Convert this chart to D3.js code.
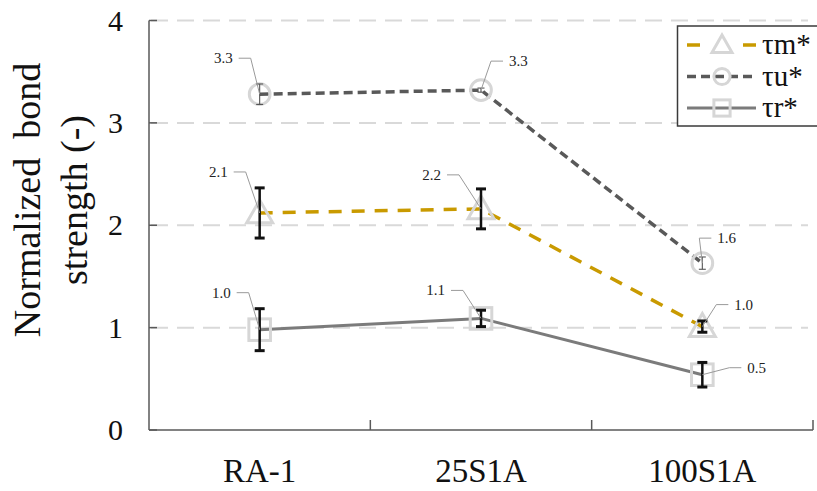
<!DOCTYPE html>
<html>
<head>
<meta charset="utf-8">
<script src="https://cdn.jsdelivr.net/npm/d3@7"></script>
<style>
  html, body { margin: 0; padding: 0; background: #fff; }
  svg { display: block; }
</style>
</head>
<body>
<svg id="chart" width="817" height="491" font-family="'Times New Roman', 'Liberation Serif', Tinos, serif"></svg>
<script>
// ---- data ----
const categories = ["RA-1", "25S1A", "100S1A"];
const yTicks = [0, 1, 2, 3, 4];

const tauM = [2.12, 2.16, 1.01];
const tauMErr = [0.245, 0.195, 0.055];

const tauU = [3.28, 3.32, 1.63];
const tauUErr = [0.10, 0.02, 0.06];

const tauR = [0.98, 1.09, 0.54];
const tauRErr = [0.205, 0.08, 0.12];

const seriesNames = ["τm*", "τu*", "τr*"];

// ---- layout ----
const svg = d3.select("#chart");
const plot = { left: 149, right: 813, top: 20.5, bottom: 430 };

const x = d3.scaleBand().domain(categories).range([plot.left, plot.right]).padding(0);
const y = d3.scaleLinear().domain([0, 4]).range([plot.bottom, plot.top]);
const cx = c => x(c) + x.bandwidth() / 2;

// label placement per point: [dx, dy] of label anchor relative to point, anchor side
const labelLayout = {
  "τm*": [[-32, -36, "end"], [-40, -29, "end"], [32, -17, "start"]],
  "τu*": [[-27, -31, "end"], [28, -24, "start"], [15, -20, "start"]],
  "τr*": [[-29, -32, "end"], [-36, -23, "end"], [45, -2, "start"]]
};

const series = [
  { name: "τm*", values: tauM, err: tauMErr, color: "#c99a00", width: 3.5, dash: "13,10",
    marker: "triangle", errStyle: "bold" },
  { name: "τu*", values: tauU, err: tauUErr, color: "#595959", width: 3.5, dash: "9,5",
    marker: "circle", errStyle: "thin" },
  { name: "τr*", values: tauR, err: tauRErr, color: "#7b7b7b", width: 3, dash: null,
    marker: "square", errStyle: "bold" }
];

const markerColor = "#d6d6d6";

// ---- gridlines ----
svg.append("g").selectAll("line")
  .data(yTicks.filter(t => t > 0))
  .join("line")
  .attr("x1", plot.left + 2).attr("x2", plot.right - 5)
  .attr("y1", d => y(d)).attr("y2", d => y(d))
  .attr("stroke", "#d9d9d9").attr("stroke-width", 2)
  .attr("stroke-dasharray", "17,9");

// ---- axes ----
const axisColor = "#595959";
svg.append("line")
  .attr("x1", plot.left).attr("x2", plot.left)
  .attr("y1", y(4)).attr("y2", y(0))
  .attr("stroke", axisColor).attr("stroke-width", 1.5);
svg.append("line")
  .attr("x1", plot.left).attr("x2", plot.right)
  .attr("y1", y(0)).attr("y2", y(0))
  .attr("stroke", axisColor).attr("stroke-width", 1.5);

// y ticks (inside) and labels
svg.append("g").selectAll("line")
  .data(yTicks)
  .join("line")
  .attr("x1", plot.left).attr("x2", plot.left + 8)
  .attr("y1", d => y(d)).attr("y2", d => y(d))
  .attr("stroke", axisColor).attr("stroke-width", 1.5);
svg.append("g").selectAll("text")
  .data(yTicks)
  .join("text")
  .attr("x", 123).attr("y", d => y(d) + 10)
  .attr("text-anchor", "end")
  .attr("font-size", 30)
  .attr("fill", "#111")
  .text(d => d);

// x category separators (inside) and labels
svg.append("g").selectAll("line")
  .data(categories)
  .join("line")
  .attr("x1", d => x(d) + x.bandwidth()).attr("x2", d => x(d) + x.bandwidth())
  .attr("y1", y(0)).attr("y2", y(0) - 10)
  .attr("stroke", axisColor).attr("stroke-width", 1.5);
svg.append("g").selectAll("text")
  .data(categories)
  .join("text")
  .attr("x", d => cx(d)).attr("y", 482)
  .attr("text-anchor", "middle")
  .attr("font-size", 33)
  .attr("fill", "#111")
  .text(d => d);

// y axis title
const yTitle = svg.append("text")
  .attr("transform", "translate(0,200) rotate(-90)")
  .attr("text-anchor", "middle")
  .attr("font-size", 38)
  .attr("fill", "#111");
yTitle.append("tspan").attr("x", 0).attr("y", 40).text("Normalized\u00a0 bond");
yTitle.append("tspan").attr("x", 0).attr("y", 87).text("strength\u00a0(-)");

// ---- marker shapes ----
function drawMarker(g, type, px, py, s) {
  if (type === "circle") {
    g.append("circle").attr("cx", px).attr("cy", py).attr("r", s * 0.45)
      .attr("fill", "none").attr("stroke", markerColor).attr("stroke-width", 3);
  } else if (type === "square") {
    const h = s * 0.45;
    g.append("rect").attr("x", px - h).attr("y", py - h).attr("width", 2 * h).attr("height", 2 * h)
      .attr("fill", "none").attr("stroke", markerColor).attr("stroke-width", 3);
  } else {
    const w = s * 0.5, hTop = s * 0.5, hBot = s * 0.38;
    g.append("path")
      .attr("d", `M${px},${py - hTop}L${px + w},${py + hBot}L${px - w},${py + hBot}Z`)
      .attr("fill", "none").attr("stroke", markerColor).attr("stroke-width", 3)
      .attr("stroke-linejoin", "miter");
  }
}

// ---- series ----
const line = d3.line().x((d, i) => cx(categories[i])).y(d => y(d));

series.forEach(s => {
  const g = svg.append("g");
  g.append("path")
    .attr("d", line(s.values))
    .attr("fill", "none")
    .attr("stroke", s.color).attr("stroke-width", s.width)
    .attr("stroke-dasharray", s.dash)
    .attr("stroke-linejoin", "round");

  s.values.forEach((v, i) => {
    drawMarker(g, s.marker, cx(categories[i]), y(v), s.marker === "triangle" ? 26 : (s.marker === "circle" ? 23 : 24));
  });

  // error bars
  s.values.forEach((v, i) => {
    const e = s.err[i];
    const px = cx(categories[i]);
    const bold = s.errStyle === "bold";
    const col = bold ? "#111" : "#555";
    const sw = bold ? 2.5 : 1.1;
    const capW = bold ? 5 : 3.5;
    const capSW = bold ? 3 : 1.1;
    g.append("line").attr("x1", px).attr("x2", px)
      .attr("y1", y(v + e)).attr("y2", y(v - e))
      .attr("stroke", col).attr("stroke-width", sw);
    [v + e, v - e].forEach(t => {
      g.append("line").attr("x1", px - capW).attr("x2", px + capW)
        .attr("y1", y(t)).attr("y2", y(t))
        .attr("stroke", col).attr("stroke-width", capSW);
    });
  });
});

// ---- data labels with leader lines ----
const fmt = d3.format(".1f");
series.forEach(s => {
  s.values.forEach((v, i) => {
    const px = cx(categories[i]), py = y(v);
    const [dx, dy, anchor] = labelLayout[s.name][i];
    const lx = px + dx, ly = py + dy;
    const midY = ly - 5;
    // leader: short horizontal stub next to the label, then down to the point
    const stubStart = anchor === "end" ? lx + 6 : lx - 6;
    const stubEnd = anchor === "end" ? stubStart + 12 : stubStart - 12;
    svg.append("path")
      .attr("d", `M${stubStart},${midY}L${stubEnd},${midY}L${px},${py}`)
      .attr("fill", "none").attr("stroke", "#9a9a9a").attr("stroke-width", 1);
    svg.append("text")
      .attr("x", lx).attr("y", ly)
      .attr("text-anchor", anchor)
      .attr("font-size", 15)
      .attr("fill", "#222")
      .text(fmt(v));
  });
});

// ---- legend ----
const legend = svg.append("g");
legend.append("rect")
  .attr("x", 677.5).attr("y", 26).attr("width", 150).attr("height", 100)
  .attr("fill", "#fff").attr("stroke", "#3a3a3a").attr("stroke-width", 1.5);

series.forEach((s, i) => {
  const ry = 45 + i * 31.5;
  legend.append("line")
    .attr("x1", 687).attr("x2", 756)
    .attr("y1", ry).attr("y2", ry)
    .attr("stroke", s.color).attr("stroke-width", s.width)
    .attr("stroke-dasharray", s.marker === "triangle" ? "13,43,13" : s.dash);
  drawMarker(legend, s.marker, 722, ry, s.marker === "triangle" ? 20 : 18);
  legend.append("text")
    .attr("x", 762).attr("y", ry + 9)
    .attr("font-size", 29)
    .attr("fill", "#111")
    .text(seriesNames[i]);
});
</script>
</body>
</html>
